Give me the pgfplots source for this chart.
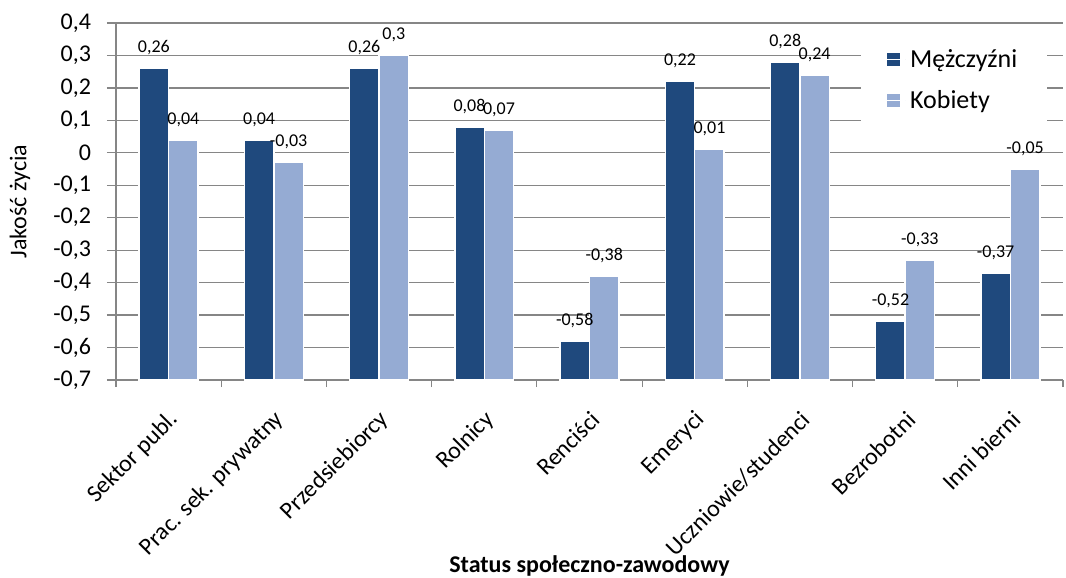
\documentclass[border=0pt]{standalone}
\usepackage{fontspec}
\setmainfont{Carlito}
\usepackage{pgfplots}
\pgfplotsset{compat=1.18}
\usepackage{pgfplotstable}
\definecolor{dk}{HTML}{1F497D}
\definecolor{lt}{HTML}{95ABD3}
\definecolor{gr}{HTML}{868686}
% values as read; bars are drawn from the axis floor -0,7 (Excel style), so y is shifted by +0.7
\pgfplotstableread{
x m k
0 0.26 0.04
1 0.04 -0.03
2 0.26 0.30
3 0.08 0.07
4 -0.58 -0.38
5 0.22 0.01
6 0.28 0.24
7 -0.52 -0.33
8 -0.37 -0.05
}\data
\begin{document}
\begin{tikzpicture}
\useasboundingbox (-58pt,-99pt) rectangle (475pt,190pt);
\begin{axis}[
  at={(0,0)}, anchor=south west,
  scale only axis, width=473.5pt, height=178.5pt,
  ybar=0pt, bar width=0.28,
  xmin=-0.5, xmax=8.5, ymin=0, ymax=1.1,
  axis lines*=left,
  axis line style={gr, line width=0.6pt},
  every tick/.style={gr, line width=0.6pt},
  tick align=outside,
  xtick={0,...,8},
  xticklabels={Sektor publ., Prac. sek. prywatny, Przedsiebiorcy, Rolnicy, Renciści, Emeryci, Uczniowie/studenci, Bezrobotni, Inni bierni},
  major x tick style={draw=none},
  minor xtick={-0.5,0.5,1.5,2.5,3.5,4.5,5.5,6.5,7.5,8.5},
  minor tick length=3.5pt,
  ytick={0,0.1,0.2,0.3,0.4,0.5,0.6,0.7,0.8,0.9,1.0,1.1},
  yticklabels={{-0,7},{-0,6},{-0,5},{-0,4},{-0,3},{-0,2},{-0,1},{0},{0,1},{0,2},{0,3},{0,4}},
  major tick length=4.5pt,
  ymajorgrids,
  major grid style={gr, line width=0.6pt},
  xticklabel style={xshift=5.5pt, yshift=-11pt, rotate=45, anchor=east, font=\fontsize{12}{14}\selectfont},
  yticklabel style={font=\fontsize{12}{14}\selectfont, xshift=-4.5pt},
  ylabel={Jakość życia},
  ylabel style={at={(axis description cs:-0.1014,0.5)}, anchor=center, font=\fontsize{12}{14}\selectfont},
  xlabel={Status społeczno-zawodowy},
  xlabel style={at={(axis description cs:0.5,0)}, anchor=center, yshift=-93pt, font=\fontsize{12}{14}\selectfont\bfseries},
  /pgf/number format/.cd, use comma, fixed, precision=2, assume math mode=true,
  /pgfplots/.cd,
  point meta=explicit,
  nodes near coords,
  nodes near coords style={font=\fontsize{9}{10}\selectfont, text=black, anchor=south, yshift=3pt},
  legend image code/.code={\fill[#1,draw=none] (0pt,-3.25pt) rectangle (6.5pt,3.25pt); \path (0pt,0pt) -- (9pt,0pt);},
  legend style={at={(rel axis cs:0.786,0.978)}, anchor=north west, draw=none, fill=white,
    font=\fontsize{13}{15}\selectfont, row sep=6pt, inner xsep=13pt, inner ysep=7pt},
  legend cell align=left,
]
\addplot[fill=dk, draw=white, line width=0.7pt] table[x=x, y expr=\thisrow{m}+0.7, meta=m] {\data};
\addplot[fill=lt, draw=white, line width=0.7pt] table[x=x, y expr=\thisrow{k}+0.7, meta=k] {\data};
\legend{Mężczyźni, Kobiety}
\end{axis}
\end{tikzpicture}
\end{document}
